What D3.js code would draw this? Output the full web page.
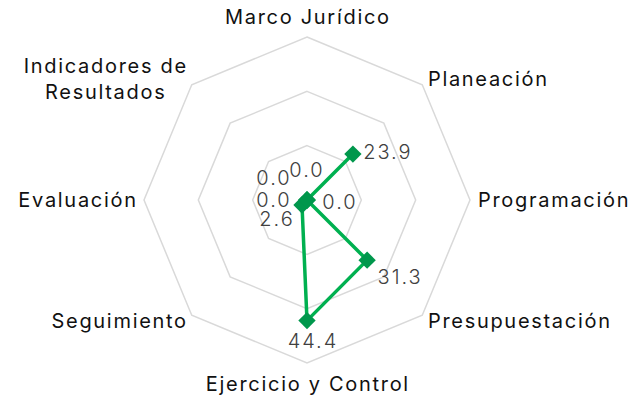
<!DOCTYPE html>
<html>
<head>
<meta charset="utf-8">
<script src="https://cdn.jsdelivr.net/npm/d3@7/dist/d3.min.js"></script>
<style>
  html, body { margin: 0; padding: 0; background: #fff; }
  svg { display: block; }
</style>
</head>
<body>
<svg id="chart" width="643" height="400"></svg>
<script>
// ---- data ----
const categories = ["Marco Jurídico", "Planeación", "Programación", "Presupuestación",
  "Ejercicio y Control", "Seguimiento", "Evaluación", "Indicadores de Resultados"];
const categoryLines = [["Marco Jurídico"], ["Planeación"], ["Programación"], ["Presupuestación"],
  ["Ejercicio y Control"], ["Seguimiento"], ["Evaluación"], ["Indicadores de", "Resultados"]];
const values = [0.0, 23.9, 0.0, 31.3, 44.4, 2.6, 0.0, 0.0];
const gridLevels = [20, 40, 60];
const maxValue = 60;
// value label placement (offset from the point, px)
const labelOffsets = [[-1, -30], [34, -2], [32, 2], [32, 17], [5, 20], [-26, 14], [-34, 0], [-34, -22]];

// ---- layout ----
const cx = 307, cy = 200, R = 163;
const svg = d3.select("#chart");
const g = svg.append("g").attr("transform", `translate(${cx},${cy})`);
const n = categories.length;
const angle = d3.scaleLinear().domain([0, n]).range([0, 2 * Math.PI]);
const r = d3.scaleLinear().domain([0, maxValue]).range([0, R]);
const pt = (i, rad) => [rad * Math.sin(angle(i)), -rad * Math.cos(angle(i))];

// grid octagons
g.selectAll("path.grid").data(gridLevels).join("path")
  .attr("class", "grid")
  .attr("d", lv => d3.line()(d3.range(n).map(i => pt(i, r(lv)))) + "Z")
  .attr("fill", "none")
  .attr("stroke", "#d9d9d9")
  .attr("stroke-width", 1.5);

// axis labels
const font = "Inter, 'DejaVu Sans', sans-serif";
const ls = 1.7;
categoryLines.forEach((lines, i) => {
  const a = angle(i);
  const [x, y] = pt(i, R + 8);
  const s = Math.sin(a), c = Math.cos(a);
  let anchor = "middle";
  if (s > 0.01) anchor = "start"; else if (s < -0.01) anchor = "end";
  const t = g.append("text")
    .attr("text-anchor", anchor)
    .attr("font-family", font)
    .attr("font-size", 20)
    .attr("letter-spacing", ls + "px")
    .attr("fill", "#111");
  const lh = 26;
  let y0;
  let xx = x;
  if (anchor === "end") xx = x + ls;          // trailing letter-spacing
  if (anchor === "middle") xx = x + ls / 2;
  if (Math.abs(s) < 0.01 && c > 0) y0 = y - 5;            // top
  else if (Math.abs(s) < 0.01 && c < 0) y0 = y + 20;      // bottom
  else y0 = y + 7 - (lines.length - 1) * lh / 2;
  lines.forEach((ln, k) => {
    t.append("tspan").attr("x", xx).attr("y", y0 + k * lh).text(ln);
  });
  if (lines.length > 1) {
    // center multi-line block, keep right edge at anchor
    const widths = t.selectAll("tspan").nodes().map(nd => nd.getComputedTextLength());
    const w = d3.max(widths);
    t.attr("text-anchor", "middle");
    t.selectAll("tspan").attr("x", xx - w / 2);
  }
});

// series line
const pts = values.map((v, i) => pt(i, r(v)));
g.append("path")
  .attr("d", d3.line()(pts) + "Z")
  .attr("fill", "none")
  .attr("stroke", "#00b050")
  .attr("stroke-width", 3.5)
  .attr("stroke-linejoin", "round");

// markers
g.selectAll("path.mk").data(values).join("path")
  .attr("class", "mk")
  .attr("d", d3.symbol(d3.symbolSquare, 150))
  .attr("transform", (v, i) => { const [x, y] = pt(i, r(v)); return `translate(${x},${y}) rotate(45)`; })
  .attr("fill", "#00974c");

// value labels
g.selectAll("text.val").data(values).join("text")
  .attr("class", "val")
  .attr("x", (v, i) => pt(i, r(v))[0] + labelOffsets[i][0] + 1)
  .attr("y", (v, i) => pt(i, r(v))[1] + labelOffsets[i][1])
  .attr("dy", "0.36em")
  .attr("text-anchor", "middle")
  .attr("font-family", font)
  .attr("font-weight", 300)
  .attr("font-size", 20)
  .attr("letter-spacing", "2px")
  .attr("fill", "#404040")
  .text(v => v.toFixed(1));
</script>
</body>
</html>
